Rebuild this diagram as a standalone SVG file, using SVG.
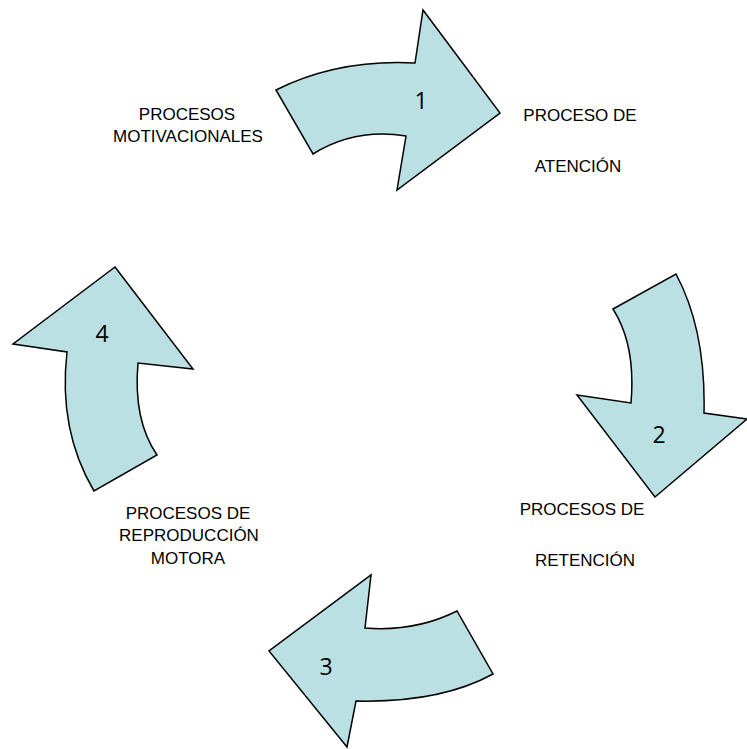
<svg xmlns="http://www.w3.org/2000/svg" width="747" height="749" viewBox="0 0 747 749">
  <style>
    .arrow { fill: #BAE0E3; stroke: #000000; stroke-width: 1.5; stroke-linejoin: miter; }
    .num { font-family: "Open Sans", "Noto Sans", "Liberation Sans", sans-serif; font-size: 23px; fill: #000000; text-anchor: middle; }
    .lbl { font-family: "Liberation Sans", Arial, sans-serif; font-size: 17px; fill: #000000; text-anchor: middle; }
  </style>
  <rect x="0" y="0" width="747" height="749" fill="#FFFFFF"/>
  <g id="connectors">
    <g id="arrow-1">
      <path class="arrow" d="M 276,90 Q 338,59 415,63 L 423,10 L 500,113 L 397,190 L 406,136 Q 355,128 313,154 Z"/>
      <text class="num" x="421" y="109">1</text>
    </g>
    <g id="arrow-2">
      <path class="arrow" d="M 613,309 L 676,274 Q 706,330 704,413 L 747,419 L 655,497 L 577,395 L 631,403 Q 636,345 613,309 Z"/>
      <text class="num" x="659" y="443">2</text>
    </g>
    <g id="arrow-3">
      <path class="arrow" d="M 371,575 L 365,628 Q 415,632 457,611 L 493,674 Q 440,703 356,701 L 347,747 L 269,651 Z"/>
      <text class="num" x="326" y="675">3</text>
    </g>
    <g id="arrow-4">
      <path class="arrow" d="M 115,267 L 193,369 L 138,363 Q 133,420 157,455 L 94,491 Q 58,430 67,352 L 13,344 Z"/>
      <text class="num" x="102" y="342">4</text>
    </g>
  </g>
  <g id="node-motivacionales">
    <text class="lbl" x="187" y="120">PROCESOS</text>
    <text class="lbl" x="188" y="142">MOTIVACIONALES</text>
  </g>
  <g id="node-atencion">
    <text class="lbl" x="580" y="121">PROCESO DE</text>
    <text class="lbl" x="578" y="172">ATENCIÓN</text>
  </g>
  <g id="node-retencion">
    <text class="lbl" x="582" y="515">PROCESOS DE</text>
    <text class="lbl" x="585" y="566">RETENCIÓN</text>
  </g>
  <g id="node-reproduccion">
    <text class="lbl" x="188" y="519">PROCESOS DE</text>
    <text class="lbl" x="189" y="541">REPRODUCCIÓN</text>
    <text class="lbl" x="188" y="564">MOTORA</text>
  </g>
</svg>
